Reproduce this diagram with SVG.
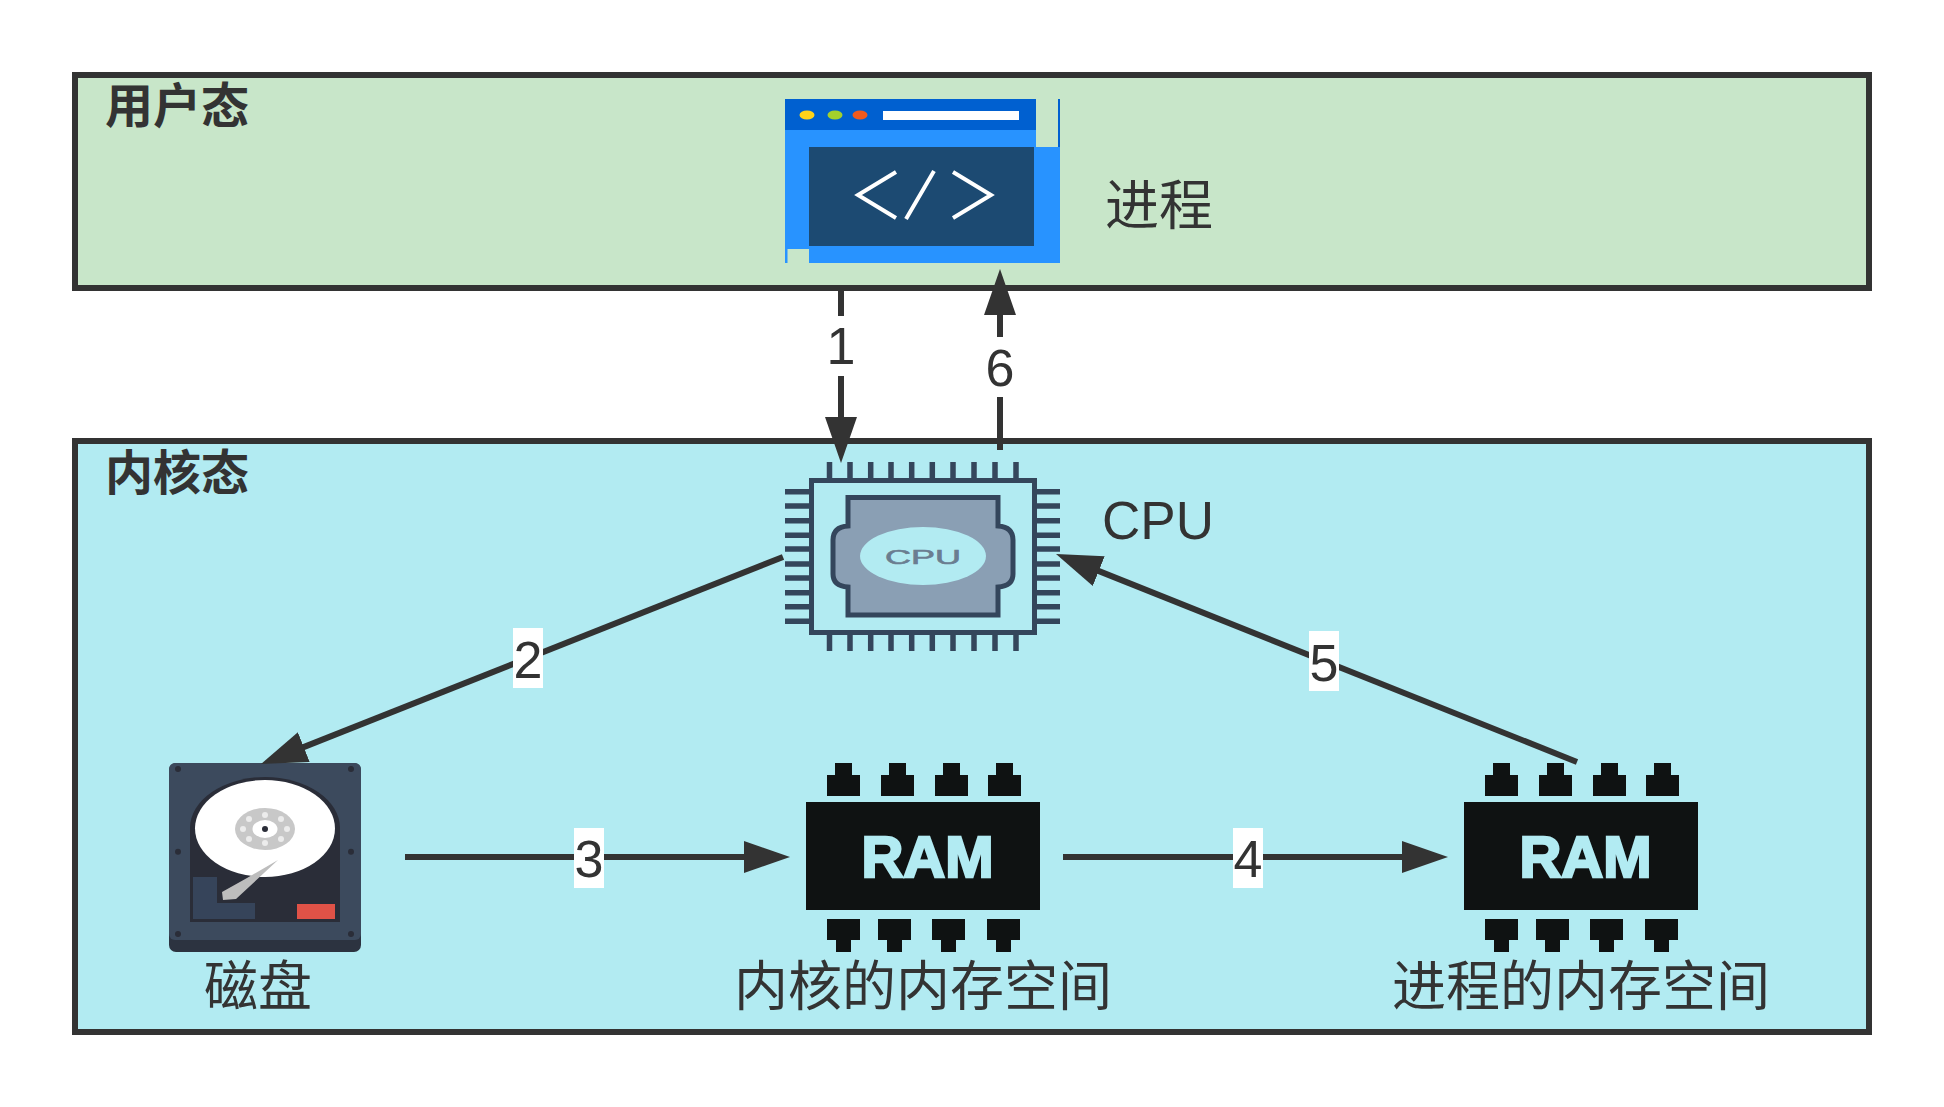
<svg xmlns="http://www.w3.org/2000/svg" xmlns:xlink="http://www.w3.org/1999/xlink" width="1944" height="1107" viewBox="0 0 1944 1107">
<style>
text{fill:#333}
.cjk{font-family:"Noto Sans CJK SC","Noto Sans",sans-serif;font-size:54px;text-anchor:middle}
.title{font-family:"Noto Sans CJK SC","Noto Sans",sans-serif;font-size:48px;font-weight:700}
.lat{font-family:"Liberation Sans",Arial,sans-serif;font-size:52px;text-anchor:middle}
.layer{stroke:#333;stroke-width:6}
.conn{fill:none;stroke:#333;stroke-width:6;marker-end:url(#head)}
.chip{fill:#0f1212}
.ramtxt{font-family:"Liberation Sans",Arial,sans-serif;font-size:58px;font-weight:700;text-anchor:middle;fill:#b2ebf2;stroke:#b2ebf2;stroke-width:2.5}
.pin{stroke:#34465c;stroke-width:5.5}
.lbl{fill:#fff}
.blue{fill:#2893ff}
.screw{fill:#2a2d38}
.hole{fill:#ececec}
</style>
<defs>
<marker id="head" markerUnits="userSpaceOnUse" markerWidth="46" markerHeight="32" refX="26" refY="16" orient="auto"><path d="M0 0L46 16L0 32Z" fill="#333"/></marker>
<path id="pt" d="M0 33V12H8V0H25V12H33V33Z"/>
<path id="pb" d="M0 156H33V177H24V189H9V177H0Z"/>
<g id="ram" class="chip">
<rect x="0" y="39" width="234" height="108"/>
<use xlink:href="#pt" x="21"/><use xlink:href="#pt" x="75"/><use xlink:href="#pt" x="129"/><use xlink:href="#pt" x="182"/>
<use xlink:href="#pb" x="21"/><use xlink:href="#pb" x="72"/><use xlink:href="#pb" x="126"/><use xlink:href="#pb" x="181"/>
</g>
</defs>
<rect width="1944" height="1107" fill="#fff"/>
<g id="user-layer">
<rect class="layer" x="75" y="75" width="1794" height="213" fill="#c8e6c9"/>
<text class="title" x="105" y="123">用户态</text>
</g>
<g id="kernel-layer">
<rect class="layer" x="75" y="441" width="1794" height="591" fill="#b2ebf2"/>
<text class="title" x="105" y="490">内核态</text>
</g>
<g id="process">
<rect x="785" y="99" width="251" height="31" fill="#0060d0"/>
<rect class="blue" x="785" y="130" width="251" height="17"/>
<rect x="1058" y="99" width="2" height="48" fill="#0060d0"/>
<rect class="blue" x="785" y="147" width="275" height="116"/>
<rect x="787.500" y="249" width="21.500" height="14" fill="#c8e6c9"/>
<rect x="809" y="147" width="225" height="99" fill="#1c4a72"/>
<ellipse cx="807" cy="115" rx="7.500" ry="4.500" fill="#ffd31a"/>
<ellipse cx="835" cy="115" rx="7.500" ry="4.500" fill="#a4d02c"/>
<ellipse cx="860" cy="115" rx="7.500" ry="4.500" fill="#f25a1d"/>
<rect x="883" y="111" width="136" height="9" fill="#fff"/>
<path d="M896 172L858 195L896 218M934 171L906 219M953 172L991 195L953 218" fill="none" stroke="#fff" stroke-width="4"/>
<text class="cjk" x="1159" y="225">进程</text>
</g>
<g id="cpu">
<path class="pin" d="M829.500 462V478M850 462V478M870.700 462V478M891 462V478M911.700 462V478M932.300 462V478M953 462V478M974 462V478M995 462V478M1016 462V478M829.500 635V651M850 635V651M870.700 635V651M891 635V651M911.700 635V651M932.300 635V651M953 635V651M974 635V651M995 635V651M1016 635V651M785 491.700H809M785 506H809M785 520.700H809M785 535.300H809M785 549H809M785 564H809M785 578H809M785 592.700H809M785 606.700H809M785 621.300H809M1037 491.700H1060M1037 506H1060M1037 520.700H1060M1037 535.300H1060M1037 549H1060M1037 564H1060M1037 578H1060M1037 592.700H1060M1037 606.700H1060M1037 621.300H1060"/>
<rect x="811.500" y="480.500" width="223" height="152" fill="none" stroke="#34465c" stroke-width="5"/>
<path d="M848 497.500H998V526Q1013 527 1013 540V574Q1013 586 998 587V615H848V587Q833 586 833 574V540Q833 527 848 526Z" fill="#8a9fb4" stroke="#34465c" stroke-width="5"/>
<ellipse cx="923" cy="556" rx="63" ry="29" fill="#b2ebf2"/>
<text x="885" y="564" font-family="Liberation Sans, Arial, sans-serif" font-size="20" textLength="76" lengthAdjust="spacingAndGlyphs" style="fill:#6a7d90;stroke:#6a7d90;stroke-width:.6">CPU</text>
<text class="lat" x="1158" y="539" style="font-size:53px">CPU</text>
</g>
<g id="disk">
<rect x="169" y="763" width="192" height="189" rx="7" fill="#2c3340"/>
<rect x="169" y="763" width="192" height="177" rx="6" fill="#3c4a5d"/>
<path d="M190 922V828A75 51 0 0 1 340 828V922Z" fill="#2a2d38"/>
<path d="M193 877H217V903H255V919H193Z" fill="#36445a"/>
<rect x="297" y="904" width="38" height="15" fill="#e05247"/>
<ellipse cx="265" cy="828.500" rx="70" ry="48.500" fill="#fff"/>
<ellipse cx="265" cy="829" rx="30" ry="21" fill="#c8c8c8"/>
<g class="hole"><circle cx="265" cy="815" r="3"/><circle cx="265" cy="843" r="3"/><circle cx="243" cy="829" r="3"/><circle cx="287" cy="829" r="3"/><circle cx="249" cy="819" r="3"/><circle cx="281" cy="819" r="3"/><circle cx="249" cy="839" r="3"/><circle cx="281" cy="839" r="3"/></g>
<ellipse cx="265" cy="829" rx="12.500" ry="9" fill="#fff"/>
<circle cx="265" cy="829" r="3" fill="#2a2d38"/>
<path d="M278 860L247 878L222 892L223 900L236 899Z" fill="#bdbdbd"/>
<g class="screw"><circle cx="178" cy="769" r="3"/><circle cx="351" cy="769" r="3"/><circle cx="178" cy="851.700" r="3"/><circle cx="351" cy="851.700" r="3"/><circle cx="178" cy="934" r="3"/><circle cx="351" cy="934" r="3"/></g>
<text class="cjk" x="258" y="1006">磁盘</text>
</g>
<g id="kernel-memory">
<use xlink:href="#ram" x="806" y="763"/>
<text class="ramtxt" x="927.500" y="877">RAM</text>
<text class="cjk" x="923" y="1006">内核的内存空间</text>
</g>
<g id="process-memory">
<use xlink:href="#ram" x="1464" y="763"/>
<text class="ramtxt" x="1585.500" y="877">RAM</text>
<text class="cjk" x="1581" y="1006">进程的内存空间</text>
</g>
<g id="connectors">
<path class="conn" d="M841 285V443"/>
<path class="conn" d="M783 557L279.600 756.600"/>
<path class="conn" d="M405 857H770"/>
<path class="conn" d="M1063 857H1428"/>
<path class="conn" d="M1577 762L1074.600 561.400"/>
<path class="conn" d="M1000 450V289"/>
</g>
<g id="connector-labels">
<rect class="lbl" x="826" y="316" width="30" height="60"/><text class="lat" x="841" y="364">1</text>
<rect class="lbl" x="513" y="628" width="30" height="60"/><text class="lat" x="528" y="678">2</text>
<rect class="lbl" x="574" y="828" width="30" height="60"/><text class="lat" x="589" y="877">3</text>
<rect class="lbl" x="1233" y="828" width="30" height="60"/><text class="lat" x="1248" y="877">4</text>
<rect class="lbl" x="1309" y="631" width="30" height="60"/><text class="lat" x="1324" y="681">5</text>
<rect class="lbl" x="985" y="337" width="30" height="60"/><text class="lat" x="1000" y="386">6</text>
</g>
</svg>
